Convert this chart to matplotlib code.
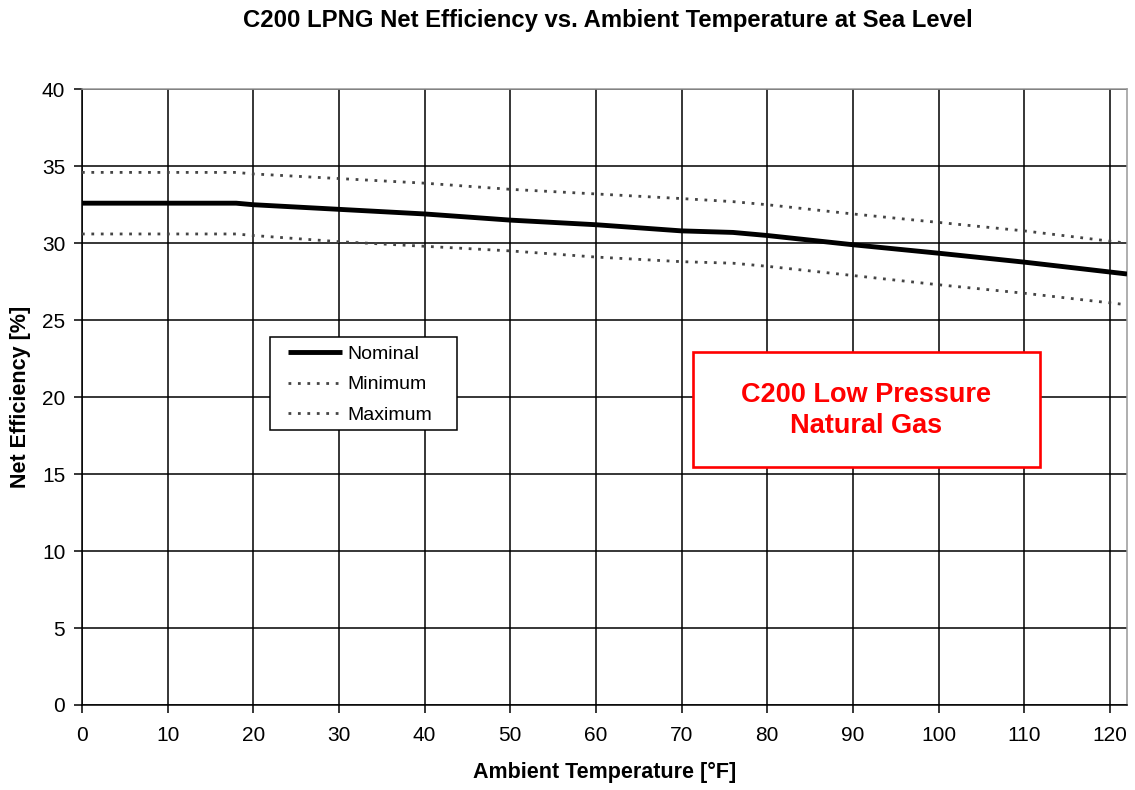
import matplotlib.pyplot as plt
from matplotlib.patches import Rectangle

plt.rcParams['font.family'] = ['Liberation Sans', 'DejaVu Sans']

# Ambient temperature [F] and efficiency [%]
temp = [0, 18, 20, 30, 40, 50, 60, 70, 76, 80, 90, 100, 110, 122]
nominal = [32.6, 32.6, 32.5, 32.2, 31.9, 31.5, 31.2, 30.8, 30.7, 30.5, 29.9, 29.35, 28.77, 28.0]
minimum = [30.6, 30.6, 30.5, 30.1, 29.8, 29.5, 29.1, 28.8, 28.7, 28.5, 27.9, 27.3, 26.75, 26.0]
maximum = [34.6, 34.6, 34.5, 34.2, 33.9, 33.5, 33.2, 32.9, 32.7, 32.5, 31.9, 31.35, 30.8, 30.0]

fig = plt.figure(figsize=(11.35, 7.9), dpi=100, facecolor='white')
ax = fig.add_axes([0.0722, 0.1076, 0.9208, 0.7794])

ax.plot(temp, nominal, color='black', lw=3.5, solid_capstyle='butt', label='Nominal', zorder=3)
ax.plot(temp, minimum, color='#444444', lw=2, ls=(0, (1, 2.4)), label='Minimum', zorder=3)
ax.plot(temp, maximum, color='#444444', lw=2, ls=(0, (1, 2.4)), label='Maximum', zorder=3)

ax.set_xlim(0, 122)
ax.set_ylim(0, 40)
ax.set_xticks(range(0, 121, 10))
ax.set_yticks(range(0, 41, 5))
ax.grid(True, color='black', lw=1.1)
ax.set_axisbelow(True)
ax.tick_params(direction='out', length=6, width=1.1, labelsize=15)
ax.tick_params(axis='x', pad=9)
ax.tick_params(axis='y', pad=6)
for side in ['left', 'bottom']:
    ax.spines[side].set_color('black')
    ax.spines[side].set_linewidth(1.1)
for side in ['top', 'right']:
    ax.spines[side].set_color('#999999')
    ax.spines[side].set_linewidth(1.1)

ax.set_xlabel('Ambient Temperature [°F]', fontsize=15.5, fontweight='bold', labelpad=12)
ax.set_ylabel('Net Efficiency [%]', fontsize=15.5, fontweight='bold', labelpad=8)
fig.suptitle('C200 LPNG Net Efficiency vs. Ambient Temperature at Sea Level',
             fontsize=17.2, fontweight='bold', x=0.536, y=0.989)

# legend box drawn by hand, legend itself frameless inside it
ax.add_patch(Rectangle((0.1798, 0.4464), 0.1789, 0.151, transform=ax.transAxes,
                       facecolor='white', edgecolor='black', lw=1.1, zorder=4))
leg = ax.legend(loc='upper left', bbox_to_anchor=(0.197, 0.584), frameon=False,
                fontsize=14, handlelength=2.8, handletextpad=0.25, borderpad=0,
                labelspacing=0.66, borderaxespad=0)
leg.set_zorder(5)

ax.add_patch(Rectangle((0.5844, 0.386), 0.3319, 0.187, transform=ax.transAxes,
                       facecolor='white', edgecolor='red', lw=1.9, zorder=4))
ax.text(0.750, 0.479, 'C200 Low Pressure\nNatural Gas', transform=ax.transAxes,
        ha='center', va='center', color='red', fontsize=19.5, fontweight='bold',
        linespacing=1.25, zorder=5)

fig.savefig('out.png', dpi=100, facecolor='white')
